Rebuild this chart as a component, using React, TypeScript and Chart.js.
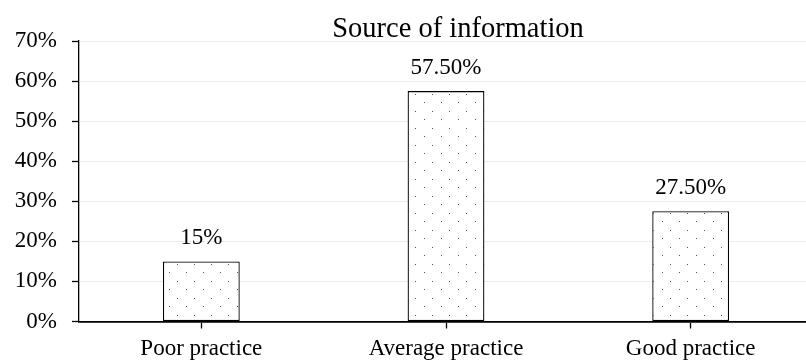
import React, { useEffect, useRef } from "react";
import { Chart, registerables } from "chart.js";

Chart.register(...registerables);

const categories = ["Poor practice", "Average practice", "Good practice"];
const shares = [15, 57.5, 27.5];
const yTicks = [0, 10, 20, 30, 40, 50, 60, 70];
const chartTitle = "Source of information";

const SERIF = '"Liberation Serif", "Times New Roman", serif';

const formatShare = (v: number) =>
  Number.isInteger(v) ? `${v}%` : `${v.toFixed(2)}%`;

// Small dotted fill, staggered rows
function makeDotPattern(): CanvasPattern | string {
  const tile = document.createElement("canvas");
  tile.width = 17;
  tile.height = 17;
  const c = tile.getContext("2d");
  if (!c) return "#fff";
  c.fillStyle = "#ffffff";
  c.fillRect(0, 0, 17, 17);
  c.fillStyle = "#555555";
  c.fillRect(16, 0, 1, 1);
  c.fillRect(7, 9, 1, 1);
  const ctx = document.createElement("canvas").getContext("2d");
  return (ctx && ctx.createPattern(tile, "repeat")) || "#fff";
}

const titlePlugin = {
  id: "centerTitle",
  afterDraw(chart: any) {
    const { ctx, chartArea } = chart;
    ctx.save();
    ctx.font = `28.5px ${SERIF}`;
    ctx.fillStyle = "#000";
    ctx.textAlign = "center";
    ctx.textBaseline = "alphabetic";
    ctx.fillText(chartTitle, (chartArea.left + chartArea.right) / 2 + 12, 37);
    ctx.restore();
  },
};

const valueLabelPlugin = {
  id: "valueLabels",
  afterDatasetsDraw(chart: any) {
    const { ctx } = chart;
    const meta = chart.getDatasetMeta(0);
    ctx.save();
    ctx.font = `23px ${SERIF}`;
    ctx.fillStyle = "#000";
    ctx.textAlign = "center";
    ctx.textBaseline = "alphabetic";
    meta.data.forEach((el: any, i: number) => {
      ctx.fillText(formatShare(shares[i]), el.x, el.y - 17.5);
    });
    ctx.restore();
  },
};

export default function App() {
  const canvasRef = useRef<HTMLCanvasElement | null>(null);

  useEffect(() => {
    const canvas = canvasRef.current;
    if (!canvas) return;
    const chart = new Chart(canvas, {
      type: "bar",
      data: {
        labels: categories,
        datasets: [
          {
            data: shares,
            backgroundColor: makeDotPattern() as any,
            borderColor: "#000",
            borderWidth: 1.3,
            borderSkipped: false,
            categoryPercentage: 1,
            barPercentage: 0.314,
          },
        ],
      },
      options: {
        responsive: false,
        animation: false,
        layout: { padding: { top: 41, right: 7, left: 0, bottom: 0 } },
        plugins: {
          legend: { display: false },
          title: { display: false },
          tooltip: { enabled: false },
        },
        scales: {
          x: {
            offset: true,
            grid: {
              offset: false,
              drawOnChartArea: false,
              tickLength: 7,
              tickColor: "#000",
              tickWidth: 1.3,
            },
            border: { color: "#000", width: 1.8 },
            ticks: {
              color: "#000",
              font: { family: SERIF, size: 23 },
              padding: 7,
              maxRotation: 0,
            },
            afterFit(scale: any) {
              scale.height = 40.5;
            },
          },
          y: {
            min: 0,
            max: 70,
            afterBuildTicks(scale: any) {
              scale.ticks = yTicks.map((v) => ({ value: v }));
            },
            grid: {
              color: "#ebebeb",
              lineWidth: 1,
              tickLength: 7,
              tickColor: "#000",
              tickWidth: 1.3,
            },
            border: { color: "#000", width: 1.3 },
            ticks: {
              color: "#000",
              font: { family: SERIF, size: 23 },
              padding: 15,
              callback: (v: any) => `${v}%`,
            },
            afterFit(scale: any) {
              scale.width = 79;
            },
          },
        },
      },
      plugins: [titlePlugin, valueLabelPlugin],
    });
    return () => chart.destroy();
  }, []);

  return (
    <div
      style={{
        position: "absolute",
        left: 0,
        top: 0,
        width: 806,
        height: 362,
        overflow: "hidden",
        background: "#fff",
      }}
    >
      <canvas ref={canvasRef} width={820} height={362} style={{ display: "block" }} />
    </div>
  );
}
